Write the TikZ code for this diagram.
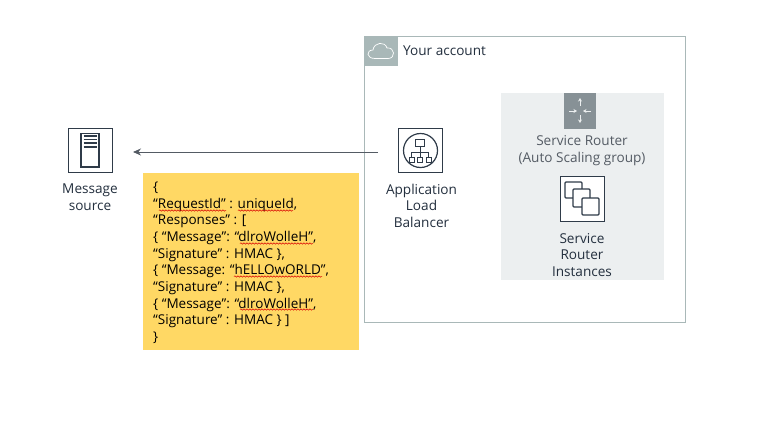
\documentclass[tikz,border=0pt]{standalone}
\usepackage{fontspec}
\setmainfont{Open Sans}
\usetikzlibrary{arrows.meta,decorations.pathmorphing}
\definecolor{acct}{HTML}{A9B8B8}
\definecolor{panel}{HTML}{ECEFF0}
\definecolor{tile}{HTML}{879196}
\definecolor{ink}{HTML}{232F3E}
\definecolor{soft}{HTML}{545B64}
\definecolor{gl}{HTML}{2F3B49}
\definecolor{note}{HTML}{FFD864}
\tikzset{
  x=1pt,y=-1pt,
  iconbox/.style={draw=gl,line width=0.8pt,fill=white,minimum width=44pt,minimum height=44pt,inner sep=0pt,outer sep=0pt},
  glyph/.style={draw=gl,line width=1.1pt},
  label/.style={font=\fontsize{13.6}{16.6}\selectfont,text=ink,align=center,inner sep=0pt},
  softlabel/.style={font=\fontsize{13.6}{16.6}\selectfont,text=soft,align=center,inner sep=0pt},
  squig/.style={draw=red!85!black,line width=0.5pt,decorate,decoration={snake,amplitude=0.7pt,segment length=3pt}},
  tilearrow/.style={draw=panel,line width=0.6pt,-{Stealth[length=3.5pt,width=4pt]}}
}
\begin{document}
\begin{tikzpicture}
\useasboundingbox (0,0) rectangle (761,429);
\fill[white] (0,0) rectangle (761,429);
% account
\node[draw=acct,line width=0.9pt,minimum width=321pt,minimum height=286pt,inner sep=0pt,outer sep=0pt,anchor=north west] (account) at (364.5,36) {};
\fill[acct] (365,36) rectangle (398,66);
\draw[white,line width=0.7pt] (375,58.5) .. controls (366,58.5) and (366,50) .. (373,50) .. controls (374,42) and (385,41) .. (387,48) .. controls (395,47) and (396,58.5) .. (388,58.5) -- cycle;
\node[label,anchor=west] (acctlabel) at (403,50.5) {Your account};
% panel
\fill[panel] (501,93) rectangle (664,280);
\fill[tile] (564,93) rectangle (596,129);
\draw[tilearrow] (580,106) -- (580,98);
\draw[tilearrow] (580,115) -- (580,123);
\draw[tilearrow] (569,111) -- (577,111);
\draw[tilearrow] (591,111) -- (583,111);
\node[softlabel] (sr) at (582,150.5) {Service Router\\(Auto Scaling group)};
% instances
\node[iconbox,anchor=north west,minimum height=45pt] (inst) at (560,176) {};
\draw[glyph,rounded corners=1pt,fill=white] (565,182) rectangle (582,198);
\draw[glyph,rounded corners=1pt,fill=white] (573,189) rectangle (590,207);
\draw[glyph,rounded corners=1pt,fill=white] (582,198) rectangle (599,215);
\node[label] (instlabel) at (582,255) {Service\\Router\\Instances};
% ALB
\node[iconbox,anchor=north west] (alb) at (398,128) {};
\draw[glyph,line width=1.2pt] (420.5,150.5) circle (17);
\draw[glyph,line width=0.9pt] (415,139) rectangle (424.5,146);
\draw[glyph,line width=0.9pt] (420,146) -- (420,157) (411.5,157) -- (411.5,152) -- (428.5,152) -- (428.5,157);
\draw[glyph,line width=0.9pt] (409,157) rectangle (414,162) (417.5,157) rectangle (422.5,162) (426,157) rectangle (431,162);
\node[label] (alblabel) at (421.5,205.5) {Application\\Load\\Balancer};
% source
\node[iconbox,anchor=north west] (src) at (68,128) {};
\draw[glyph,line width=1.3pt] (81,133.5) rectangle (99,167);
\draw[glyph] (83.5,136) -- (96.5,136) (83.5,139.5) -- (96.5,139.5) (83.5,143) -- (96.5,143) (83.5,147) -- (96.5,147);
\node[label] (srclabel) at (90,197.5) {Message\\source};
% arrow
\draw[draw=soft,line width=0.9pt,-{Stealth[length=8pt,width=7pt]}] ([shift={(-20,2)}]alb.west) -- ([shift={(21,2)}]src.east);
% note
\node[fill=note,minimum width=216pt,minimum height=177pt,inner sep=0pt,anchor=north west] (notebox) at (143,173) {};
\node[anchor=north west,inner sep=0pt,align=left,text=black,font=\fontsize{13.5}{16.7}\selectfont] (notetext) at (153,181.5) {\{\\
“RequestId” : uniqueId,\\
“Responses” : [\\
\{ “Message”: “dlroWolleH”,\\
“Signature” : HMAC \},\\
\{ “Message: “hELLOwORLD”,\\
“Signature” : HMAC \},\\
\{ “Message”: “dlroWolleH”,\\
“Signature” : HMAC \} ]\\
\}};
\draw[squig] (159,210.5) -- (226,210.5);
\draw[squig] (238,210.5) -- (293,210.5);
\draw[squig] (240,243.5) -- (313,243.5);
\draw[squig] (234,276.5) -- (322,276.5);
\draw[squig] (240,309.5) -- (313,309.5);
\end{tikzpicture}
\end{document}
